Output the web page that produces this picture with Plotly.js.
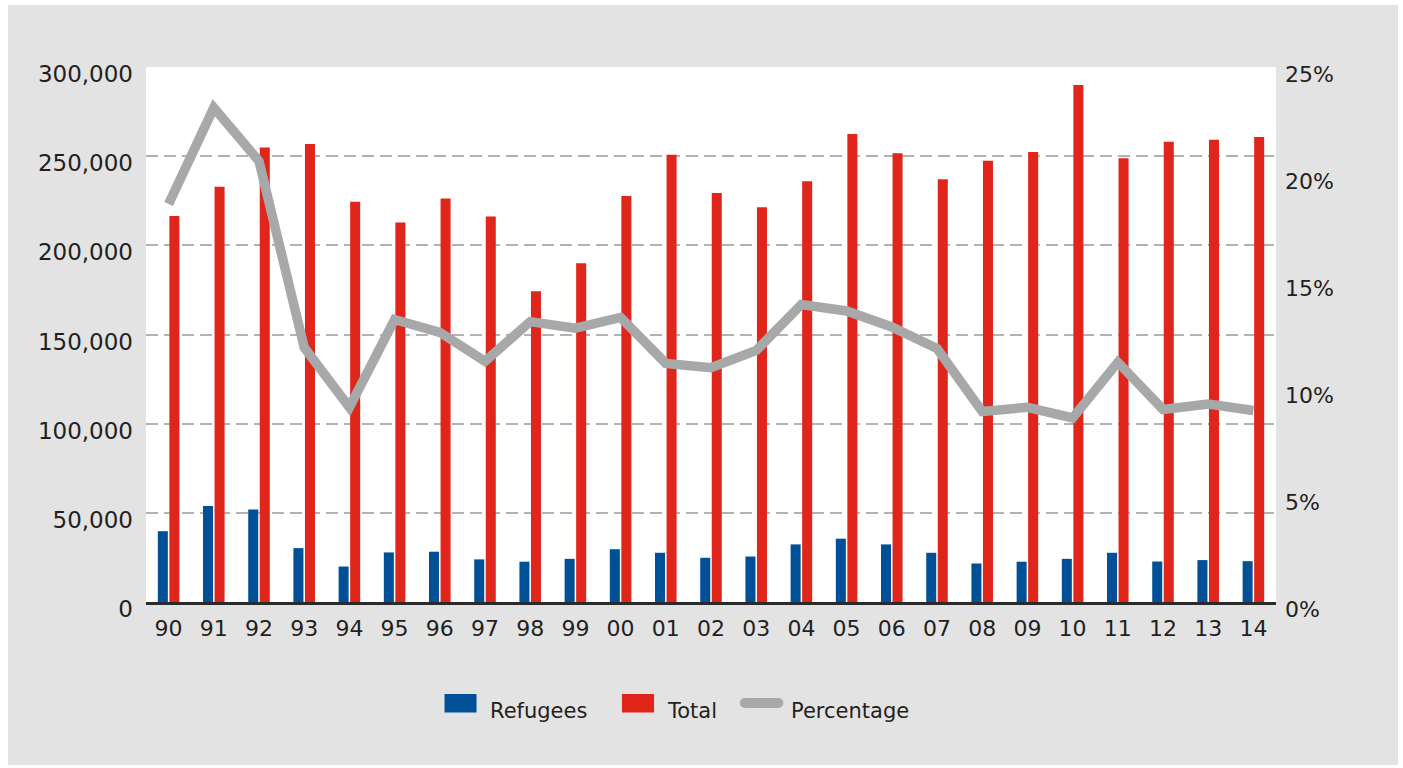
<!DOCTYPE html>
<html>
<head>
<meta charset="utf-8">
<script src="https://cdn.plot.ly/plotly-3.0.1.min.js"></script>
<style>
  html, body { margin: 0; padding: 0; background: #ffffff; }
  #chart { position: absolute; left: 8px; top: 5px; width: 1390px; height: 760px; }
</style>
</head>
<body>
<div id="chart"></div>
<script>
const years = ['90','91','92','93','94','95','96','97','98','99','00','01','02','03','04','05','06','07','08','09','10','11','12','13','14'];
const refugees = [39700, 53800, 51900, 30200, 19900, 27800, 28200, 23900, 22600, 24200, 29600, 27600, 24800, 25500, 32300, 35500, 32300, 27600, 21600, 22600, 24200, 27600, 22700, 23500, 22900];
const total = [216500, 232800, 254900, 256800, 224400, 212800, 226300, 216200, 174300, 190000, 227600, 250800, 229300, 221400, 236000, 262400, 251700, 237000, 247400, 252300, 289900, 248900, 258100, 259200, 260700];
const percentage = [18.6, 23.1, 20.6, 11.9, 9.1, 13.2, 12.6, 11.25, 13.1, 12.8, 13.3, 11.15, 10.95, 11.75, 13.9, 13.6, 12.85, 11.85, 8.9, 9.1, 8.6, 11.2, 9.0, 9.25, 8.95];
const seriesNames = ['Refugees', 'Total', 'Percentage'];

const FONT = 'DejaVu Sans';
const TXT = '#231f20';
const BLUE = '#005097', RED = '#e0261a', GREY = '#a7a8aa';

const traces = [
  { type: 'bar', name: seriesNames[0], x: years, y: refugees, marker: { color: BLUE }, yaxis: 'y' },
  { type: 'bar', name: seriesNames[1], x: years, y: total, marker: { color: RED }, yaxis: 'y' },
  { type: 'scatter', mode: 'lines', name: seriesNames[2], x: years, y: percentage, yaxis: 'y2',
    line: { color: GREY, width: 9.5 } }
];

// custom legend (swatches + labels) placed below the plot area
const legY = -0.2037;
const shapes = [
  { type: 'rect', xref: 'paper', yref: 'paper', x0: 0.2642, x1: 0.2925, y0: -0.1720, y1: -0.2065,
    fillcolor: BLUE, line: { width: 0 } },
  { type: 'rect', xref: 'paper', yref: 'paper', x0: 0.4212, x1: 0.4496, y0: -0.1720, y1: -0.2065,
    fillcolor: RED, line: { width: 0 } },
  { type: 'line', xref: 'paper', yref: 'paper', x0: 0.5300, x1: 0.5595, y0: -0.1888, y1: -0.1888,
    line: { color: GREY, width: 10 } },
  { type: 'circle', xref: 'paper', yref: 'paper', x0: 0.5255, x1: 0.5345, y0: -0.1795, y1: -0.1981,
    fillcolor: GREY, line: { width: 0 } },
  { type: 'circle', xref: 'paper', yref: 'paper', x0: 0.5550, x1: 0.5640, y0: -0.1795, y1: -0.1981,
    fillcolor: GREY, line: { width: 0 } }
];
const legX = [0.3027, 0.4593, 0.5690];
const annotations = seriesNames.map((n, i) => ({
  text: n, xref: 'paper', yref: 'paper', x: legX[i], y: legY,
  xanchor: 'left', yanchor: 'middle', showarrow: false,
  font: { family: FONT, size: 21, color: TXT }
}));

const layout = {
  width: 1390, height: 760,
  paper_bgcolor: '#e3e3e3',
  plot_bgcolor: '#ffffff',
  margin: { l: 138, r: 122, t: 62, b: 163 },
  font: { family: FONT, color: TXT, size: 20 },
  barmode: 'group',
  bargap: 0.49,
  bargroupgap: 0.13,
  showlegend: false,
  shapes: shapes,
  annotations: annotations,
  xaxis: {
    type: 'category',
    showline: true, linecolor: '#2a2a2a', linewidth: 3,
    showgrid: false, zeroline: false, ticks: '',
    tickfont: { family: FONT, size: 22, color: TXT },
    ticklabelstandoff: 5,
    range: [-0.5, 24.5]
  },
  yaxis: {
    range: [0, 300000], dtick: 50000, tickformat: ',d',
    showgrid: true, gridcolor: '#b3b3b3', gridwidth: 2, griddash: '12px,6px',
    zeroline: false, showline: false, ticks: '',
    tickfont: { family: FONT, size: 23, color: TXT },
    ticklabelstandoff: 12, ticklabelshift: 7
  },
  yaxis2: {
    overlaying: 'y', side: 'right',
    range: [0, 25], dtick: 5, ticksuffix: '%',
    showgrid: false, zeroline: false, showline: false, ticks: '',
    tickfont: { family: FONT, size: 22, color: TXT },
    ticklabelstandoff: 8, ticklabelshift: 7
  }
};

Plotly.newPlot('chart', traces, layout, { displayModeBar: false, staticPlot: true });
</script>
</body>
</html>
